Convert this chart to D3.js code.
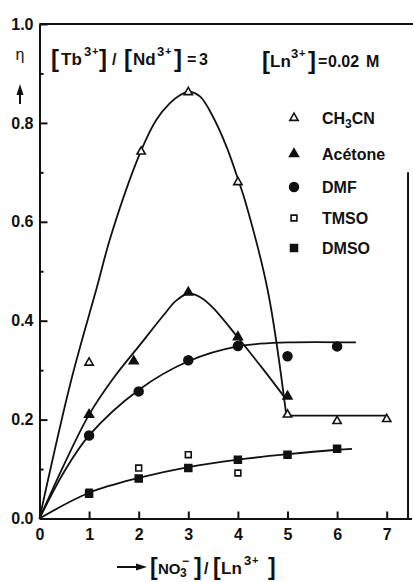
<!DOCTYPE html>
<html>
<head>
<meta charset="utf-8">
<script src="https://cdn.jsdelivr.net/npm/d3@7"></script>
<style>
  html, body { margin: 0; padding: 0; background: #fff; }
  svg { display: block; }
  text { font-family: "Liberation Sans", Arial, sans-serif; fill: #111; }
</style>
</head>
<body>
<svg id="chart" width="413" height="582"></svg>
<script>
// ---- axis ticks ----
const xTicks = [0, 1, 2, 3, 4, 5, 6, 7];
const yMajor = [0, 0.2, 0.4, 0.6, 0.8, 1.0];
const yMinor = [0.1, 0.3, 0.5, 0.7, 0.9];

// ---- solvents (legend order) ----
const solvents = ["CH3CN", "Acétone", "DMF", "TMSO", "DMSO"];

// ---- measured points: x = [NO3-]/[Ln3+], y = eta ----
const ch3cnX   = [1, 2.05, 3, 4, 5, 6, 7];
const ch3cnY   = [0.315, 0.742, 0.862, 0.680, 0.210, 0.197, 0.201];
const acetoneX = [1, 1.9, 3, 4, 5];
const acetoneY = [0.210, 0.318, 0.457, 0.367, 0.247];
const dmfX     = [1, 2, 3, 4, 5, 6];
const dmfY     = [0.168, 0.257, 0.320, 0.349, 0.328, 0.348];
const tmsoX    = [1, 2, 3, 4];
const tmsoY    = [0.053, 0.102, 0.129, 0.092];
const dmsoX    = [1, 2, 3, 4, 5, 6];
const dmsoY    = [0.050, 0.081, 0.102, 0.119, 0.129, 0.141];

// ---- hand-drawn trend curves ----
const ch3cnCurveX = [0, 0.64, 1.15, 1.45, 2.04, 2.36, 2.63, 2.83, 3.02, 3.24, 3.50, 3.77, 4.02, 4.14, 4.60, 4.97];
const ch3cnCurveY = [0, 0.280, 0.465, 0.575, 0.742, 0.807, 0.840, 0.856, 0.863, 0.853, 0.812, 0.752, 0.681, 0.644, 0.462, 0.213];
const ch3cnFlatX  = [4.97, 7.02];
const ch3cnFlatY  = [0.208, 0.208];
const acetoneCurveX = [0, 0.5, 1, 1.5, 2, 2.5, 2.75, 3, 3.25, 3.5, 4, 4.5, 4.95];
const acetoneCurveY = [0, 0.110, 0.210, 0.285, 0.348, 0.411, 0.440, 0.455, 0.447, 0.426, 0.366, 0.303, 0.244];
const dmfCurveX = [0, 0.5, 1, 2, 3, 4, 5, 6.38];
const dmfCurveY = [0, 0.095, 0.168, 0.260, 0.318, 0.348, 0.356, 0.356];
const dmsoCurveX = [0, 1, 2, 3, 4, 5, 6, 6.3];
const dmsoCurveY = [0, 0.052, 0.082, 0.104, 0.119, 0.130, 0.139, 0.141];

const svg = d3.select("#chart");
const x = d3.scaleLinear().domain([0, 7.5]).range([39.5, 411.5]);
const y = d3.scaleLinear().domain([0, 1]).range([518.5, 24]);

const ink = "#111";

// ---- axes ----
const gx = svg.append("g")
  .attr("transform", `translate(0,${y(0)})`)
  .call(d3.axisBottom(x).tickValues(xTicks).tickFormat(d3.format("d"))
    .tickSizeInner(-7).tickSizeOuter(0).tickPadding(10));
const gy = svg.append("g")
  .attr("transform", `translate(${x(0)},0)`)
  .call(d3.axisLeft(y).tickValues(yMajor).tickFormat(d3.format(".1f"))
    .tickSizeInner(-8).tickSizeOuter(0).tickPadding(6));
const gyMinor = svg.append("g")
  .attr("transform", `translate(${x(0)},0)`)
  .call(d3.axisLeft(y).tickValues(yMinor).tickFormat("")
    .tickSizeInner(-4).tickSizeOuter(0));
gyMinor.select(".domain").remove();

[gx, gy, gyMinor].forEach(g => {
  g.attr("font-family", null).attr("font-size", null);
  g.selectAll("path, line").attr("stroke", ink).attr("stroke-width", 2);
  g.selectAll("text").attr("font-size", 16).attr("font-weight", "bold").attr("fill", ink);
});

// frame: top edge and right edge
svg.append("line")
  .attr("x1", x(0)).attr("x2", 413).attr("y1", y(1)).attr("y2", y(1))
  .attr("stroke", ink).attr("stroke-width", 2);
svg.append("line")
  .attr("x1", x(7.43)).attr("x2", x(7.43)).attr("y1", y(0.70)).attr("y2", y(0))
  .attr("stroke", ink).attr("stroke-width", 2);

// ---- curves ----
const line = d3.line()
  .x(d => x(d[0])).y(d => y(d[1]))
  .curve(d3.curveCatmullRom.alpha(0.5));
const straight = d3.line().x(d => x(d[0])).y(d => y(d[1]));

const curves = [
  [d3.zip(ch3cnCurveX, ch3cnCurveY), line],
  [d3.zip(ch3cnFlatX, ch3cnFlatY), straight],
  [d3.zip(acetoneCurveX, acetoneCurveY), line],
  [d3.zip(dmfCurveX, dmfCurveY), line],
  [d3.zip(dmsoCurveX, dmsoCurveY), line]
];
curves.forEach(([pts, gen]) => {
  svg.append("path").attr("d", gen(pts))
    .attr("fill", "none").attr("stroke", ink).attr("stroke-width", 1.8)
    .attr("stroke-linejoin", "round");
});

// ---- markers ----
const markerStyle = {
  "CH3CN":   { type: d3.symbolTriangle, size: 30, fill: "#fff" },
  "Acétone": { type: d3.symbolTriangle, size: 34, fill: ink },
  "DMF":     { type: d3.symbolCircle,   size: 62, fill: ink },
  "TMSO":    { type: d3.symbolSquare,   size: 34, fill: "#fff" },
  "DMSO":    { type: d3.symbolSquare,   size: 48, fill: ink }
};
const seriesPts = {
  "CH3CN":   d3.zip(ch3cnX, ch3cnY),
  "Acétone": d3.zip(acetoneX, acetoneY),
  "DMF":     d3.zip(dmfX, dmfY),
  "TMSO":    d3.zip(tmsoX, tmsoY),
  "DMSO":    d3.zip(dmsoX, dmsoY)
};
function drawSymbol(g, name, cx, cy) {
  const s = markerStyle[name];
  g.append("path")
    .attr("d", d3.symbol().type(s.type).size(s.size)())
    .attr("transform", `translate(${cx},${cy})`)
    .attr("fill", s.fill).attr("stroke", ink).attr("stroke-width", 1.6);
}
const gm = svg.append("g");
solvents.forEach(name => {
  seriesPts[name].forEach(([vx, vy]) => drawSymbol(gm, name, x(vx), y(vy)));
});

// ---- legend ----
const legendY = [118, 154, 187, 218, 248];
const gl = svg.append("g");
solvents.forEach((name, i) => {
  drawSymbol(gl, name, 294, legendY[i]);
  const t = gl.append("text").attr("x", 322).attr("y", legendY[i] + 6)
    .attr("font-size", 16).attr("font-weight", "bold");
  if (name === "CH3CN") {
    t.append("tspan").text("CH");
    t.append("tspan").attr("font-size", 12).attr("dy", 4).text("3");
    t.append("tspan").attr("dy", -4).text("CN");
  } else {
    t.text(name);
  }
});

// ---- annotations built from positioned pieces ----
function pieces(base, parts) {
  const t = svg.append("text").attr("y", base);
  parts.forEach(p => {
    t.append("tspan")
      .attr("x", p[0]).attr("y", base + p[1])
      .attr("font-size", p[2]).attr("font-weight", p[3] ? "bold" : "normal")
      .text(p[4]);
  });
}
// [Tb3+] / [Nd3+] = 3
pieces(65, [
  [51, 2, 24, true, "["], [61, 0, 17, true, "Tb"], [84, -9, 13, true, "3"], [92, -10, 11, true, "+"],
  [99, 2, 24, true, "]"], [112, 0, 16, true, "/"],
  [124, 2, 24, true, "["], [133, 0, 17, true, "Nd"], [157, -9, 13, true, "3"], [165, -10, 11, true, "+"],
  [174, 2, 24, true, "]"], [187, 0, 16, true, "="], [199, 0, 16, true, "3"]
]);
// [Ln3+] = 0.02 M
pieces(67, [
  [262, 2, 24, true, "["], [270, 0, 17, true, "Ln"], [291, -9, 13, true, "3"], [299, -10, 11, true, "+"],
  [308, 2, 24, true, "]"], [318, 0, 16, true, "="], [328, 0, 16, true, "0.02"], [366, 0, 16, true, "M"]
]);
// x-axis title: [NO3-] / [Ln3+]
pieces(574, [
  [150, 1, 23, true, "["], [158, 0, 15, true, "NO"], [180, 3, 12, true, "3"], [182, -9, 12, true, "\u2212"],
  [194, 1, 23, true, "]"], [204, 0, 16, true, "/"],
  [213, 1, 23, true, "["], [221, 0, 17, true, "Ln"], [244, -9, 13, true, "3"], [252, -10, 11, true, "+"],
  [268, 1, 23, true, "]"]
]);
// eta with upward arrow
svg.append("text").attr("x", 20).attr("y", 60).attr("text-anchor", "middle")
  .attr("font-size", 16).attr("font-family", "DejaVu Sans").text("\u03B7");
svg.append("line").attr("x1", 20).attr("x2", 20).attr("y1", 104).attr("y2", 93)
  .attr("stroke", ink).attr("stroke-width", 2);
svg.append("path").attr("d", "M20,84 L16.5,95 L23.5,95 Z").attr("fill", ink);
// horizontal arrow before the x title
svg.append("line").attr("x1", 117).attr("x2", 138).attr("y1", 567).attr("y2", 567)
  .attr("stroke", ink).attr("stroke-width", 2);
svg.append("path").attr("d", "M147,567 L136,563.5 L136,570.5 Z").attr("fill", ink);
</script>
</body>
</html>
